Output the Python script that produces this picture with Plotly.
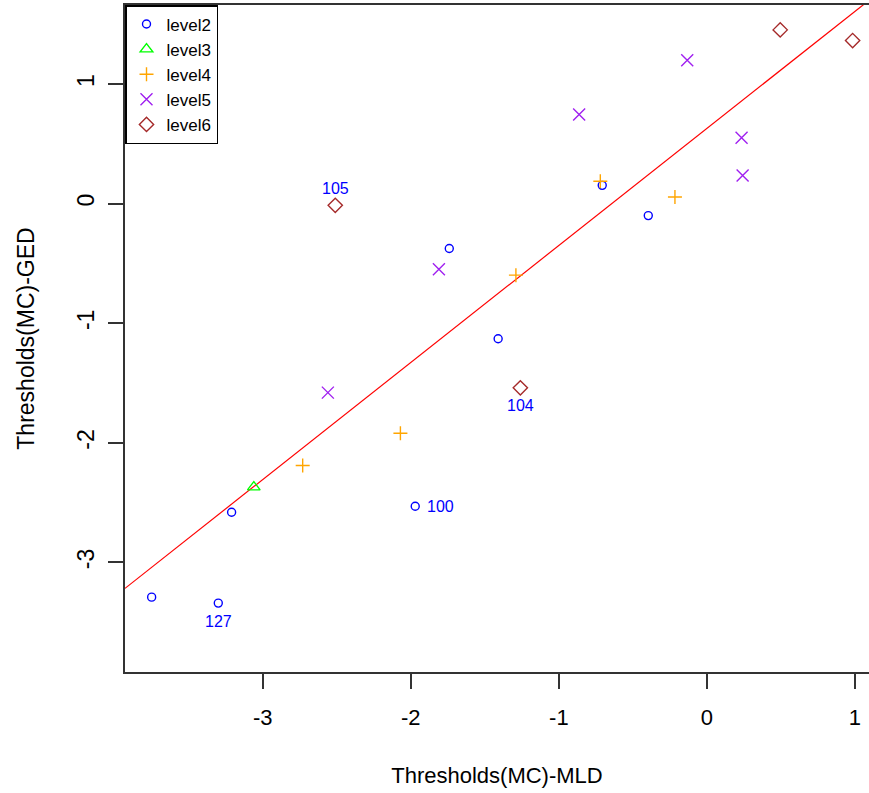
import plotly.graph_objects as go

# ---- data ----
level2_x = [-3.75, -3.30, -3.21, -1.97, -1.74, -1.41, -0.707, -0.396]
level2_y = [-3.29, -3.34, -2.58, -2.53, -0.375, -1.13, 0.153, -0.10]
level2_id = ["", "127", "", "100", "", "", "", ""]

level3_x = [-3.06]
level3_y = [-2.37]
level3_id = [""]

level4_x = [-2.73, -2.07, -1.29, -0.72, -0.216]
level4_y = [-2.19, -1.92, -0.598, 0.187, 0.056]
level4_id = ["", "", "", "", ""]

level5_x = [-2.56, -1.81, -0.863, -0.133, 0.234, 0.241]
level5_y = [-1.58, -0.548, 0.746, 1.199, 0.551, 0.235]
level5_id = ["", "", "", "", "", ""]

level6_x = [-2.51, -1.26, 0.495, 0.984]
level6_y = [-0.014, -1.54, 1.453, 1.364]
level6_id = ["105", "104", "", ""]

series_names = ["level2", "level3", "level4", "level5", "level6"]
fit_intercept = 0.629
fit_slope = 0.9786

x_ticks = [-3, -2, -1, 0, 1]
y_ticks = [-3, -2, -1, 0, 1]
x_title = "Thresholds(MC)-MLD"
y_title = "Thresholds(MC)-GED"

# ---- styles ----
X_RANGE = [-3.930, 1.0946]
Y_RANGE = [-3.916, 1.661]
FONT = "Arial, Liberation Sans, sans-serif"

styles = {
    "level2": dict(symbol="circle-open", color="#0000FF", size=8),
    "level3": dict(symbol="triangle-up-open", color="#00FF00", size=11),
    "level4": dict(symbol="cross-thin-open", color="#FFA500", size=10),
    "level5": dict(symbol="x-thin-open", color="#A020F0", size=12),
    "level6": dict(symbol="diamond-open", color="#A52A2A", size=11),
}
# label placement (R text pos): 1=below, 3=above, 4=right
label_pos = {"127": "below", "100": "right", "105": "above", "104": "below"}

series = [
    (level2_x, level2_y, level2_id),
    (level3_x, level3_y, level3_id),
    (level4_x, level4_y, level4_id),
    (level5_x, level5_y, level5_id),
    (level6_x, level6_y, level6_id),
]

fig = go.Figure()

# regression line (abline)
line_x = list(X_RANGE)
line_y = [fit_intercept + fit_slope * v for v in line_x]
fig.add_trace(go.Scatter(x=line_x, y=line_y, mode="lines",
                         line=dict(color="#FF0000", width=1.2),
                         showlegend=False, hoverinfo="skip"))

annotations = []
for name, (xs, ys, ids) in zip(series_names, series):
    st = styles[name]
    fig.add_trace(go.Scatter(
        x=xs, y=ys, mode="markers", name=name,
        marker=dict(symbol=st["symbol"], size=st["size"], color=st["color"],
                    line=dict(color=st["color"], width=1.4)),
    ))
    for xv, yv, lab in zip(xs, ys, ids):
        if not lab:
            continue
        pos = label_pos[lab]
        a = dict(x=xv, y=yv, text=lab, showarrow=False,
                 font=dict(family=FONT, size=16, color="#0000FF"))
        if pos == "above":
            a.update(yshift=17)
        elif pos == "below":
            a.update(yshift=-18)
        else:
            a.update(xanchor="left", xshift=10)
        annotations.append(a)

fig.update_layout(
    width=869, height=793,
    margin=dict(l=125, r=0, t=5, b=121),
    paper_bgcolor="white", plot_bgcolor="white",
    font=dict(family=FONT, color="black"),
    showlegend=True,
    legend=dict(x=0, y=1, xanchor="left", yanchor="top",
                bordercolor="black", borderwidth=1.5, bgcolor="white",
                font=dict(family=FONT, size=17, color="black"),
                itemclick=False),
    annotations=annotations,
    xaxis=dict(range=X_RANGE, tickmode="array", tickvals=x_ticks,
               ticktext=[str(t) for t in x_ticks],
               ticks="outside", ticklen=15, tickwidth=1.5, tickcolor="#333",
               showline=True, linecolor="#333", linewidth=2, mirror=True,
               showgrid=False, zeroline=False,
               tickfont=dict(family=FONT, size=22, color="black"),
               ticklabelstandoff=10,
               title=dict(text=x_title, font=dict(family=FONT, size=22, color="black"),
                          standoff=38)),
    yaxis=dict(range=Y_RANGE, tickmode="array", tickvals=y_ticks,
               ticktext=[str(t) for t in y_ticks],
               ticks="outside", ticklen=15, tickwidth=1.5, tickcolor="#333",
               showline=True, linecolor="#333", linewidth=2, mirror=False,
               showgrid=False, zeroline=False, tickangle=-90,
               tickfont=dict(family=FONT, size=23, color="black"),
               ticklabelstandoff=5,
               title=dict(text=y_title, font=dict(family=FONT, size=23, color="black"),
                          standoff=32)),
)

fig.write_html("out.html")
